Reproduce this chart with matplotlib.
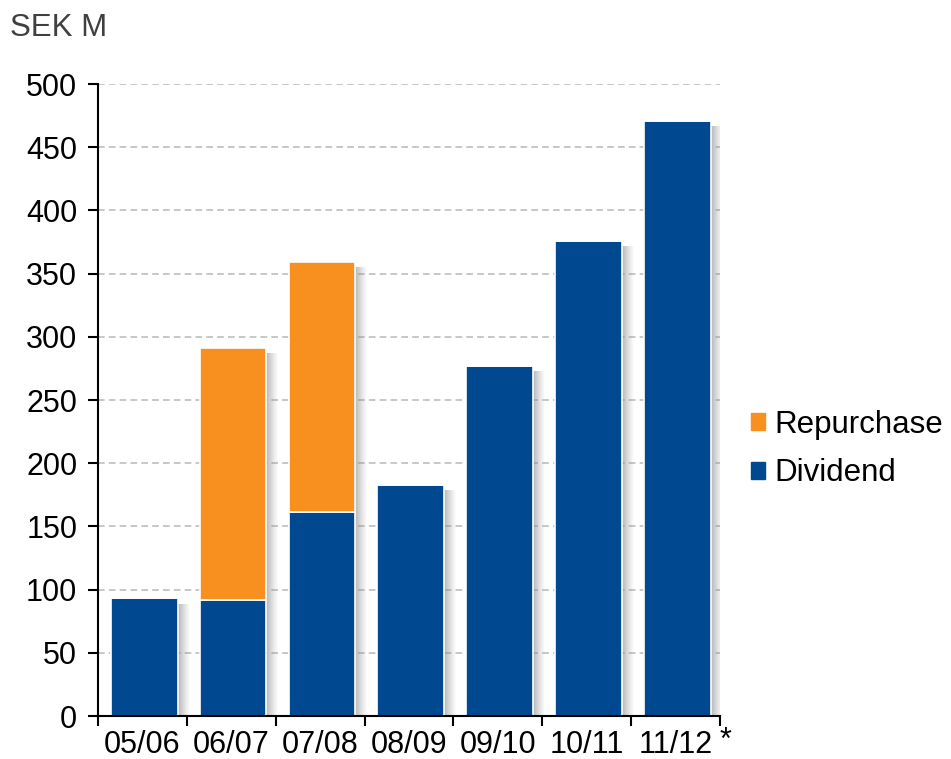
import numpy as np
import matplotlib
matplotlib.use("Agg")
import matplotlib.pyplot as plt
import matplotlib.patches as mpatches

plt.rcParams['font.family'] = ['Liberation Sans', 'DejaVu Sans']

# data (SEK M)
years = ['05/06', '06/07', '07/08', '08/09', '09/10', '10/11', '11/12']
dividend = [93, 92, 161, 183, 277, 376, 471]
repurchase = [0, 199, 198, 0, 0, 0, 0]

blue = '#004990'
orange = '#F7901E'

fig = plt.figure(figsize=(9.51, 7.59), dpi=100)
ax = fig.add_axes([98/951, 43/759, 622/951, 632/759])

x = np.arange(len(years))
w = 0.75
off = 0.02
total = np.array(dividend) + np.array(repurchase)

# soft shadow to the right of each bar
px = 1/88.9
for k in range(12):
    a = 0.6 * (1 - k/12) ** 1.2
    ax.bar(x + off + w/2 + (k + 0.5)*px, total - 4, width=px, bottom=0,
           color='#8a8a8a', alpha=a, linewidth=0, zorder=1)

ax.bar(x + off, dividend, width=w, color=blue, edgecolor='white', linewidth=1.2, zorder=2)
ax.bar(x + off, repurchase, width=w, bottom=dividend, color=orange,
       edgecolor='white', linewidth=1.2, zorder=2)

ax.set_xlim(-0.5, 6.5)
ax.set_ylim(0, 500)
ax.set_yticks(np.arange(0, 501, 50))
ax.yaxis.grid(True, color='#bdbdbd', linestyle=(0, (4, 2.5)), linewidth=1.2)
ax.set_axisbelow(True)

ax.set_xticks(np.arange(-0.5, 7, 1))
ax.set_xticklabels([])
ax.set_xticks(x, minor=True)
ax.set_xticklabels(years, minor=True)
ax.tick_params(axis='x', which='minor', length=0, labelsize=22, pad=10)
ax.tick_params(axis='x', which='major', length=7, width=1.5, direction='out')
ax.tick_params(axis='y', length=7, width=1.5, labelsize=22, pad=8)

for s in ['top', 'right']:
    ax.spines[s].set_visible(False)
ax.spines['left'].set_linewidth(1.5)
ax.spines['bottom'].set_linewidth(1.5)

fig.text(10/951, 1 - 28/759, 'SEK M', fontsize=22.5, color='#404040', va='center')
ax.text(6.5, -8, '*', fontsize=22, ha='left', va='top', clip_on=False)

handles = [mpatches.Patch(color=orange, label='Repurchase'),
           mpatches.Patch(color=blue, label='Dividend')]
fig.legend(handles=handles, loc='center left', bbox_to_anchor=(751/951, 1 - 449/759),
           frameon=False, fontsize=22.5, handlelength=0.45, handleheight=0.45,
           handletextpad=0.3, labelspacing=0.6, borderpad=0, borderaxespad=0)

fig.savefig('out.png', dpi=100)
